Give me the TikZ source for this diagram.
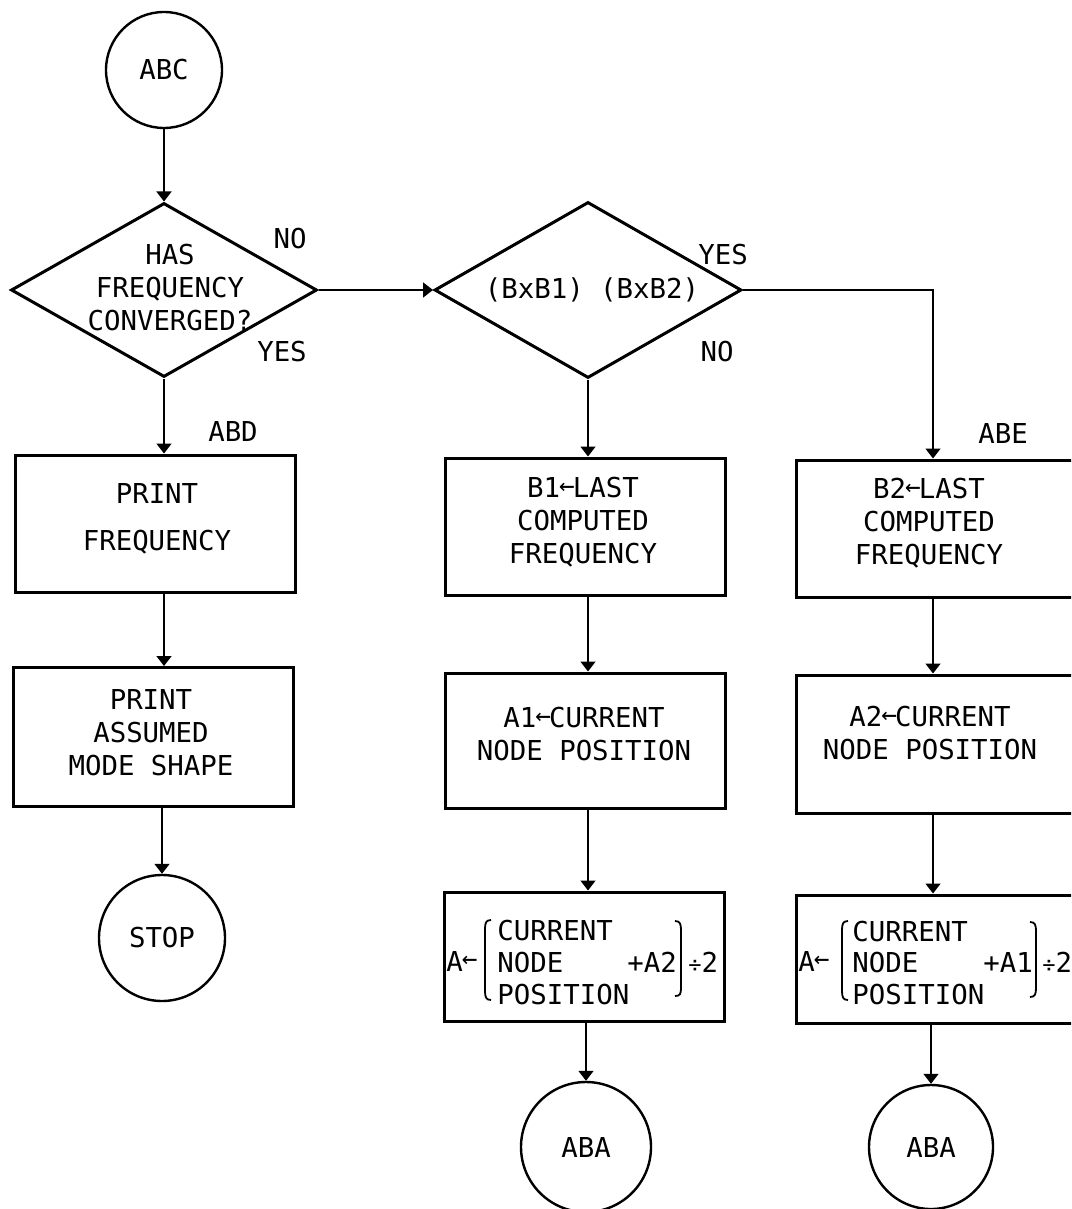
\documentclass[tikz,border=0pt]{standalone}
\usepackage{fontspec}
\setmainfont{DejaVu Sans Mono}
\usetikzlibrary{shapes.geometric,arrows.meta}
\newcommand\larrowsym{\raisebox{1.6pt}{\fontsize{13pt}{13pt}\selectfont\kern-0.5pt←\kern-1pt}}
\newcommand\divsym{{\fontsize{11pt}{11pt}\selectfont ÷}}
\tikzset{
  every node/.style={font=\fontsize{13.7pt}{16.5pt}\selectfont},
  box/.style={draw, line width=1.5pt, minimum width=140pt, inner sep=0pt},
  term/.style={draw, circle, line width=1.2pt, inner sep=0pt},
  dec/.style={draw, diamond, line width=1.5pt, inner sep=0pt},
  conn/.style={line width=0.8pt, -{Triangle[width=7.5pt,length=5pt]}},
  brk/.style={line width=0.9pt},
  lbl/.style={inner sep=0pt},
  txt/.style={inner sep=0pt, align=center},
}
\begin{document}
\begin{tikzpicture}[x=0.5pt,y=-0.5pt]
\useasboundingbox (0,0) rectangle (1071,1209);
\clip (0,0) rectangle (1071,1209);
% column 1
\node[term, minimum size=58pt] (abc) at (164,70) {ABC};
\node[dec, minimum width=153pt, minimum height=87pt] (d1) at (164,290) {};
\node[txt] (d1t) at (170,288) {HAS\\FREQUENCY\\CONVERGED?};
\node[lbl] (no1) at (290,239) {NO};
\node[lbl] (yes1) at (282,352) {YES};
\node[lbl] (abd) at (233,432) {ABD};
\node[box, minimum height=68.5pt] (p1) at (155,523.5) {};
\node[txt] (p1t) at (157,519) {PRINT\\[7pt]FREQUENCY};
\node[box, minimum height=69.5pt] (p2) at (153,737) {};
\node[txt] (p2t) at (151,733) {PRINT\\ASSUMED\\MODE SHAPE};
\node[term, minimum size=63pt] (stop) at (162,938) {STOP};
% column 2
\node[dec, minimum width=153.5pt, minimum height=88pt] (d2) at (588,290) {};
\node[txt] (d2t) at (592,290) {(BxB1) (BxB2)};
\node[lbl] (yes2) at (723,255) {YES};
\node[lbl] (no2) at (717,352) {NO};
\node[box, minimum height=68.5pt] (b1) at (585,526.5) {};
\node[txt] (b1t) at (583,522) {B1\larrowsym LAST\\COMPUTED\\FREQUENCY};
\node[box, minimum height=67.5pt] (a1) at (585,740.5) {};
\node[txt] (a1t) at (584,734) {A1\larrowsym CURRENT\\NODE POSITION};
\node[box, minimum height=64.5pt] (f1) at (584,956.5) {};
\node[lbl, anchor=base west] (f1a) at (446,971) {A\larrowsym};
\node[lbl, anchor=base west] (f1l1) at (497,940) {CURRENT};
\node[lbl, anchor=base west] (f1l2) at (497,972) {NODE};
\node[lbl, anchor=base west] (f1l3) at (497,1004) {POSITION};
\node[lbl, anchor=base west] (f1p) at (627,972) {+A2};
\node[lbl, anchor=base west] (f1d) at (688,972) {\divsym 2};
\draw[brk] (491,920) .. controls (486,920) and (485,923) .. (485,929) -- (485,991) .. controls (485,997) and (486,1000) .. (491,1000);
\draw[brk] (675,921) .. controls (680,921) and (681,924) .. (681,930) -- (681,988) .. controls (681,994) and (680,996) .. (675,996);
\node[term, minimum size=65pt] (aba1) at (586,1147) {ABA};
% column 3
\coordinate (c3) at (933,290);
\node[lbl] (abe) at (1003,434) {ABE};
\node[box, minimum height=68.5pt] (b2) at (936,528.5) {};
\node[txt] (b2t) at (929,523) {B2\larrowsym LAST\\COMPUTED\\FREQUENCY};
\node[box, minimum height=69pt] (a2) at (936,744) {};
\node[txt] (a2t) at (930,733.5) {A2\larrowsym CURRENT\\NODE POSITION};
\node[box, minimum height=64pt] (f2) at (936,959) {};
\node[lbl, anchor=base west] (f2a) at (798,971) {A\larrowsym};
\node[lbl, anchor=base west] (f2l1) at (852,941) {CURRENT};
\node[lbl, anchor=base west] (f2l2) at (852,972) {NODE};
\node[lbl, anchor=base west] (f2l3) at (852,1004) {POSITION};
\node[lbl, anchor=base west] (f2p) at (983,972) {+A1};
\node[lbl, anchor=base west] (f2d) at (1042,972) {\divsym 2};
\draw[brk] (848,921) .. controls (843,921) and (842,924) .. (842,930) -- (842,991) .. controls (842,997) and (843,1000) .. (848,1000);
\draw[brk] (1030,922) .. controls (1035,922) and (1036,925) .. (1036,931) -- (1036,988) .. controls (1036,994) and (1035,997) .. (1030,997);
\node[term, minimum size=62pt] (aba2) at (931,1147) {ABA};
% connectors
\draw[conn] (abc.south) -- (d1.north);
\draw[conn] (d1.east) -- (d2.west);
\draw[conn] (d1.south) -- (d1.south |- p1.north);
\draw[conn] (p1.south -| d1.south) -- (p2.north -| d1.south);
\draw[conn] (p2.south -| stop.north) -- (stop.north);
\draw[conn] (d2.south) -- (d2.south |- b1.north);
\draw[conn] (b1.south -| d2.south) -- (a1.north -| d2.south);
\draw[conn] (a1.south -| d2.south) -- (f1.north -| d2.south);
\draw[conn] (f1.south -| aba1.north) -- (aba1.north);
\draw[conn] (d2.east) -| (c3 |- b2.north);
\draw[conn] (b2.south -| c3) -- (a2.north -| c3);
\draw[conn] (a2.south -| c3) -- (f2.north -| c3);
\draw[conn] (f2.south -| aba2.north) -- (aba2.north);
\end{tikzpicture}
\end{document}
